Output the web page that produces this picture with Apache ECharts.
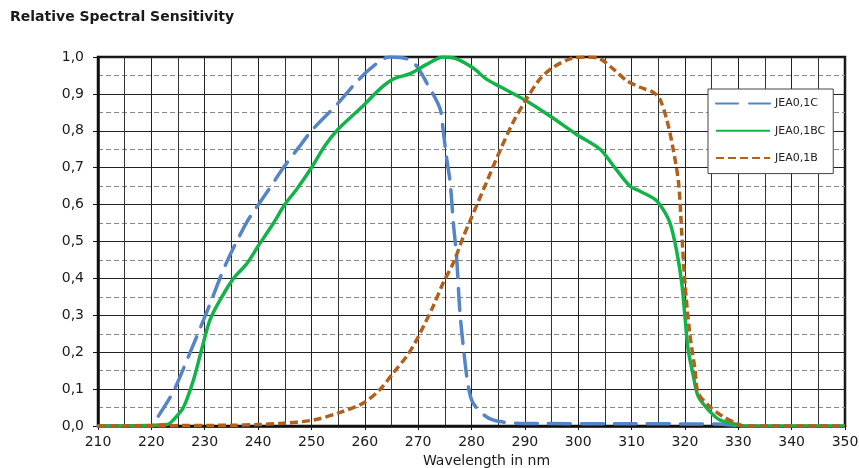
<!DOCTYPE html>
<html>
<head>
<meta charset="utf-8">
<script src="https://cdn.jsdelivr.net/npm/echarts@6/dist/echarts.min.js"></script>
<style>
  html, body { margin: 0; padding: 0; background: #fff; }
  #chart { width: 859px; height: 468px; }
</style>
</head>
<body>
<div id="chart"></div>
<script>
// Relative spectral sensitivity of three UV photodiodes, wavelength [nm] vs relative response
const seriesNames = ['JEA0,1C', 'JEA0,1BC', 'JEA0,1B'];

const sensJEA01C = [
  [210, 0], [220, 0], [221, 0.02], [224, 0.09], [227, 0.19], [230.7, 0.32], [234, 0.44],
  [238, 0.555], [241.5, 0.63], [245, 0.705], [248, 0.762], [250, 0.80], [255, 0.875],
  [258, 0.925], [261, 0.968], [264.7, 1.0], [267.9, 0.995], [269.7, 0.976], [271.6, 0.93],
  [274.1, 0.86], [274.7, 0.80], [275.3, 0.73], [276, 0.66], [276.6, 0.55], [277.2, 0.46],
  [277.8, 0.315], [278.5, 0.21], [279.4, 0.107], [280.3, 0.062], [282.8, 0.025],
  [285.3, 0.012], [290, 0.007], [310, 0.006], [327, 0.005], [330, 0]
];

const sensJEA01BC = [
  [210, 0], [223, 0.004], [224.1, 0.016], [226, 0.05], [227.9, 0.125], [229.4, 0.206],
  [231, 0.288], [232.9, 0.342], [235.4, 0.40], [237.9, 0.44], [240, 0.487], [242.9, 0.55],
  [245, 0.6], [247.2, 0.641], [250, 0.70], [252.5, 0.759], [255, 0.804], [259.7, 0.868],
  [262.8, 0.913], [265.3, 0.94], [268.5, 0.955], [271.6, 0.98], [274.7, 1.0], [277.2, 0.995],
  [280.3, 0.97], [282.8, 0.94], [285.3, 0.92], [289.7, 0.886], [294.7, 0.84], [299.7, 0.79],
  [304.1, 0.75], [306.6, 0.705], [309.7, 0.65], [311.6, 0.636], [314.4, 0.614], [315.9, 0.587],
  [317.2, 0.55], [318.4, 0.478], [319.4, 0.388], [320, 0.297], [320.6, 0.207], [321.6, 0.134],
  [322.5, 0.08], [324.7, 0.039], [326.6, 0.016], [329.7, 0.004], [331, 0], [350, 0]
];

const sensJEA01B = [
  [210, 0], [235, 0.002], [240, 0.004], [244.1, 0.007], [250.3, 0.016], [255.4, 0.037],
  [259.7, 0.062], [262.8, 0.098], [265.3, 0.143], [267.8, 0.188], [269.4, 0.225], [271, 0.27],
  [272.8, 0.324], [274.7, 0.388], [276.6, 0.442], [278.5, 0.514], [280, 0.565], [282.8, 0.66],
  [285.3, 0.745], [287.8, 0.823], [290.3, 0.886], [292.8, 0.94], [295.3, 0.972], [298.5, 0.995],
  [301.6, 1.0], [304.1, 0.995], [306.6, 0.967], [309.1, 0.936], [311.6, 0.918], [314.1, 0.904],
  [315.3, 0.886], [316.6, 0.83], [317.8, 0.75], [318.8, 0.66], [319.4, 0.524], [320, 0.388],
  [320.9, 0.252], [321.9, 0.152], [322.5, 0.089], [324.7, 0.052], [327.2, 0.025],
  [329.7, 0.007], [331, 0], [350, 0]
];

const xTicks = { min: 210, max: 350, step: 10 };
const yTicks = { min: 0, max: 1, step: 0.1 };

const chart = echarts.init(document.getElementById('chart'), null, { renderer: 'canvas' });
const baseFont = '"DejaVu Sans", "Liberation Sans", sans-serif';

chart.setOption({
  animation: false,
  backgroundColor: '#ffffff',
  textStyle: { fontFamily: baseFont },
  title: {
    text: 'Relative Spectral Sensitivity',
    left: 5, top: 5,
    textStyle: { fontFamily: baseFont, fontSize: 14, fontWeight: 'bold', color: '#1a1a1a' }
  },
  legend: {
    orient: 'vertical',
    left: 708, top: 89,
    width: 127,
    padding: [9, 8, 10, 7],
    backgroundColor: '#ffffff',
    borderColor: '#444',
    borderWidth: 1,
    borderRadius: 0,
    itemWidth: 54,
    itemHeight: 14,
    itemGap: 16,
    itemStyle: { opacity: 0 },
    textStyle: { fontSize: 11, color: '#222', fontFamily: baseFont },
    data: seriesNames
  },
  grid: {
    left: 98, right: 14, top: 57, bottom: 42,
    outerBoundsMode: 'none',
    show: true, borderColor: '#111', borderWidth: 2.5
  },
  xAxis: {
    type: 'value',
    min: xTicks.min, max: xTicks.max, interval: xTicks.step,
    name: 'Wavelength in nm',
    nameLocation: 'middle',
    nameGap: 25,
    nameTextStyle: { fontSize: 14, color: '#1a1a1a', padding: [0, 0, 0, 30] },
    axisLine: { show: true, lineStyle: { color: '#111', width: 2.5 } },
    axisTick: { show: true, length: 4, lineStyle: { color: '#111' } },
    axisLabel: { fontSize: 14, color: '#1a1a1a', margin: 9 },
    splitLine: { show: true, lineStyle: { color: '#222', width: 1 } },
    minorTick: { show: false, splitNumber: 2 },
    minorSplitLine: { show: true, lineStyle: { color: '#333', width: 1 } }
  },
  yAxis: {
    type: 'value',
    min: yTicks.min, max: yTicks.max, interval: yTicks.step,
    axisLine: { show: true, lineStyle: { color: '#111', width: 2.5 } },
    axisTick: { show: true, length: 5, lineStyle: { color: '#111' } },
    axisLabel: {
      fontSize: 14, color: '#1a1a1a', margin: 14,
      formatter: v => v.toFixed(1).replace('.', ',')
    },
    splitLine: { show: true, lineStyle: { color: '#222', width: 1 } },
    minorTick: { show: false, splitNumber: 2 },
    minorSplitLine: { show: true, lineStyle: { color: '#888', width: 1, type: [5, 3] } }
  },
  series: [
    {
      name: seriesNames[0], type: 'line', data: sensJEA01C,
      smooth: 0.3, symbol: 'none', z: 2,
      lineStyle: { color: '#5585c4', width: 3.5, type: [22, 11], cap: 'round' },
      itemStyle: { color: '#5585c4' }
    },
    {
      name: seriesNames[1], type: 'line', data: sensJEA01BC,
      smooth: 0.3, symbol: 'none', z: 3,
      lineStyle: { color: '#14b34a', width: 3.5 },
      itemStyle: { color: '#14b34a' }
    },
    {
      name: seriesNames[2], type: 'line', data: sensJEA01B,
      smooth: 0.3, symbol: 'none', z: 4,
      lineStyle: { color: '#b1611c', width: 3.5, type: [8, 4] },
      itemStyle: { color: '#b1611c' }
    }
  ]
});
</script>
</body>
</html>
